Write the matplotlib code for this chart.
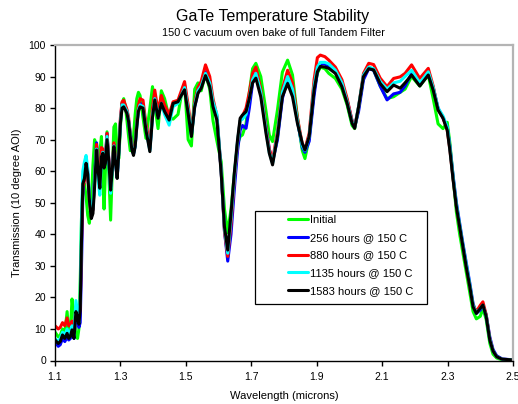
import matplotlib
matplotlib.use("Agg")
import matplotlib.pyplot as plt
from matplotlib.patches import Rectangle

plt.rcParams['font.family'] = ['Liberation Sans', 'DejaVu Sans']

wavelength = [
    1.100, 1.110, 1.116, 1.123, 1.130, 1.137, 1.142, 1.147, 1.152, 1.158,
    1.164, 1.169, 1.173, 1.177, 1.181, 1.185, 1.190, 1.195, 1.200, 1.205,
    1.211, 1.216, 1.221, 1.227, 1.233, 1.237, 1.242, 1.246, 1.250, 1.254,
    1.259, 1.265, 1.270, 1.275, 1.280, 1.285, 1.290, 1.295, 1.300, 1.305,
    1.310, 1.315, 1.320, 1.325, 1.330, 1.335, 1.340, 1.345, 1.350, 1.355,
    1.360, 1.369, 1.378, 1.390, 1.398, 1.405, 1.415, 1.425, 1.435, 1.449,
    1.461, 1.476, 1.486, 1.496, 1.507, 1.517, 1.527, 1.537, 1.547, 1.560,
    1.573, 1.583, 1.595, 1.608, 1.618, 1.628, 1.638, 1.648, 1.658, 1.666,
    1.673, 1.684, 1.694, 1.704, 1.714, 1.729, 1.745, 1.755, 1.765, 1.780,
    1.795, 1.811, 1.826, 1.841, 1.856, 1.864, 1.877, 1.892, 1.902, 1.911,
    1.925, 1.937, 1.957, 1.977, 1.993, 2.008, 2.016, 2.028, 2.043, 2.059,
    2.074, 2.094, 2.115, 2.135, 2.155, 2.170, 2.190, 2.215, 2.241, 2.256,
    2.271, 2.286, 2.299, 2.307, 2.317, 2.327, 2.337, 2.347, 2.357, 2.368,
    2.378, 2.388, 2.400, 2.408, 2.418, 2.429, 2.439, 2.450, 2.467, 2.500,
]

initial = [
    9.0, 7.5, 8.0, 10, 8.5, 15.5, 9, 9, 19.5, 14,
    7.5, 7.0, 10, 25, 45, 55, 56, 52, 46, 43.5,
    50, 62, 70, 68, 60, 66, 71, 58, 48, 60,
    72.5, 58, 44.5, 60, 74, 75, 66, 64, 74, 81.5,
    83, 80.5, 76, 71, 66.5, 67, 71, 78, 83, 85,
    84, 77, 70.4, 80, 86.8, 81, 73.5, 85.5, 83, 77,
    76.5, 78, 84, 87.5, 70, 68, 86, 88, 85.5, 91,
    86, 76, 69.5, 63, 48, 40.5, 48, 59, 68.5, 71,
    71.5, 75, 85, 92.5, 94.2, 90, 79, 71.5, 69.4, 79.4,
    91.4, 95.2, 90.5, 77, 66.5, 64, 70.5, 85.5, 91, 93,
    92.5, 91, 89.4, 86, 81, 74.5, 73.5, 80, 90, 93,
    92, 87, 83, 83.6, 85, 86, 90, 87, 90.5, 83,
    75, 73.5, 75.5, 69, 58, 47, 40, 34, 28, 21.5,
    15.5, 13.2, 14, 16.5, 13, 5.5, 2, 0.8, 0.2, 0.1,
]

h256 = [
    6, 4.5, 5, 7, 6, 7.5, 6.5, 7, 9, 7,
    15, 13, 10.5, 12, 30, 52, 60, 63, 60, 52,
    46, 48, 58, 69, 60, 55, 66, 67, 62, 64,
    72, 63, 55, 61, 68.5, 63, 58, 66, 76, 81.5,
    81.5, 80.5, 79, 76, 72, 67.5, 65.5, 68, 74.5, 79.5,
    81.5, 81, 74, 67, 78, 84, 77.5, 82.5, 79.5, 76,
    81.5, 82, 84.5, 87, 79.5, 71.5, 80.5, 85, 87, 91.5,
    88, 81.5, 77, 60, 41, 31.5, 40, 54, 66.5, 73,
    74.5, 73.6, 80, 88, 91, 85, 74, 67, 63, 70,
    83, 89.5, 86, 76, 67.5, 66, 69.5, 84, 91.5, 94,
    94, 93, 91.5, 87.5, 82.5, 76, 74, 79, 89, 92.5,
    92, 87, 82.6, 84.5, 85, 87, 91, 87.5, 91, 86.5,
    80, 77, 74, 68, 58.5, 50, 43.5, 37, 31, 24.5,
    18, 15, 16, 17.5, 14.5, 7.5, 3.5, 1.5, 0.5, 0.2,
]

h880 = [
    11, 10, 10.5, 12, 11, 13.5, 11, 11, 12.5, 10,
    17, 15, 13, 17, 38, 55, 57, 62, 59, 51,
    45.5, 48, 57, 68.5, 60, 56, 67.5, 67, 62, 64,
    72, 63, 55, 61.5, 69, 64, 59, 67, 77, 82,
    82.5, 81, 79.5, 77, 72, 67.5, 66, 69, 75.5, 81,
    83, 82.5, 75, 67.5, 80, 85.7, 79, 84, 81, 78,
    82, 82.5, 85.5, 88.4, 81, 72.5, 82, 86.5, 88.5, 93.7,
    90, 83, 77.5, 60, 41, 33, 43, 57, 69, 76,
    77.5, 80, 85, 91, 93, 86, 74, 67, 63.5, 72.5,
    86, 92, 88, 77, 68.5, 67, 72, 89, 96, 96.8,
    96.3, 95.2, 93, 89, 83, 76, 74, 80.5, 91, 94.2,
    93.8, 89.5, 86.8, 89.4, 89.9, 91, 93.7, 89.4, 92.6, 87,
    79.5, 77, 73, 67, 57.5, 49, 42.5, 36, 30, 23.5,
    17.5, 15.5, 17.5, 18.6, 14.5, 7, 3, 1.2, 0.4, 0.2,
]

h1135 = [
    7, 6, 7, 9, 8, 10, 8, 9, 11, 8,
    19, 15, 12, 20, 45, 60, 63, 65, 61, 52,
    46, 48.5, 57, 67, 56, 52.4, 64, 66, 62, 63,
    71, 61, 53, 60, 68, 63, 58, 66, 75.5, 81,
    81, 80, 79, 76, 71.5, 67, 65.5, 68, 74.5, 79.5,
    81, 80.5, 73.5, 66.5, 77.5, 83, 77, 81.5, 78, 74.6,
    80.5, 81.5, 84, 86.5, 79.5, 71.5, 81, 85.5, 87, 91,
    88, 82, 78, 60, 42, 34, 45, 58, 69.5, 76,
    76.5, 78, 83, 89, 91, 85, 73, 66, 62.5, 71.5,
    85, 90, 86, 76, 68, 66.5, 71, 87, 93, 94.5,
    94.5, 94, 92, 88, 82, 75.5, 73.8, 80.5, 90.5, 93,
    92.5, 88.5, 86, 88, 88.5, 90, 92, 88, 91.5, 86.5,
    80, 77.5, 74, 67.5, 58, 49.5, 43, 36.5, 30.5, 24,
    17.5, 15, 16.5, 17.5, 14, 6.8, 3, 1.2, 0.4, 0.2,
]

h1583 = [
    6.5, 5.4, 6.0, 8.1, 7.0, 8.6, 7.0, 7.6, 9.7, 7.0,
    15.5, 13.5, 11.5, 16, 38, 56, 57.7, 62.5, 59, 51,
    45, 46.6, 55, 66.7, 59, 54.6, 64.6, 65.7, 61, 62.5,
    70, 62.5, 54, 60.4, 67.8, 62.5, 57.7, 65.7, 75.2, 80,
    80.4, 79.4, 78.3, 75.7, 71, 66.7, 65, 67.8, 74, 79,
    80.4, 80, 73, 66.2, 77, 82.6, 76.8, 81.5, 78.9, 76.2,
    81.5, 82, 84, 85.8, 78.3, 71, 80.4, 84.7, 86.3, 90.3,
    86.8, 80.4, 76.2, 59.3, 42.4, 35, 46.6, 59.3, 70, 76.8,
    77.8, 78.9, 83, 88, 89.5, 83.6, 72, 65.7, 62, 71,
    83.6, 87.8, 83.6, 75.2, 68.8, 66.7, 71, 85.7, 91.5, 93.2,
    93.0, 92.6, 91, 86.8, 81.5, 75.2, 73.6, 80.4, 90, 92.5,
    92.1, 87.8, 85.2, 87.3, 86.3, 88, 90.5, 87, 90.5, 85.7,
    79.4, 76.8, 73, 66.7, 57.2, 48.7, 42.4, 36, 29.7, 23.4,
    17, 14.9, 16.5, 17.6, 13.9, 6.5, 3, 1.2, 0.4, 0.2,
]

series_labels = ["Initial", "256 hours @ 150 C", "880 hours @ 150 C",
                 "1135 hours @ 150 C", "1583 hours @ 150 C"]
series_values = [initial, h256, h880, h1135, h1583]
series_colors = ["#00FF00", "#0000FF", "#FF0000", "#00FFFF", "#000000"]

x_ticks = [1.1, 1.3, 1.5, 1.7, 1.9, 2.1, 2.3, 2.5]
y_ticks = list(range(0, 101, 10))

fig = plt.figure(figsize=(5.18, 4.04), dpi=100)
ax = fig.add_axes([55 / 518, 1 - 360.5 / 404, 458 / 518, 315.5 / 404])

for vals, col, lab in zip(series_values, series_colors, series_labels):
    ax.plot(wavelength, vals, color=col, lw=2.2, label=lab,
            solid_joinstyle='round', solid_capstyle='round')

ax.set_xlim(1.1, 2.5)
ax.set_ylim(0, 100)
ax.set_xticks(x_ticks)
ax.set_xticklabels([f"{t:.1f}" for t in x_ticks])
ax.set_yticks(y_ticks)
ax.tick_params(direction='out', length=3.5, width=1, labelsize=7.5,
               colors='black', pad=3)
ax.tick_params(axis='x', pad=5)
for s in ['left', 'bottom']:
    ax.spines[s].set_color('black')
    ax.spines[s].set_linewidth(1.0)
for s in ['top', 'right']:
    ax.spines[s].set_color('#b4b4b4')
    ax.spines[s].set_linewidth(1.6)

ax.set_xlabel("Wavelength (microns)", fontsize=8, labelpad=6)
ax.set_ylabel("Transmission (10 degree AOI)", fontsize=8, labelpad=5)

fig.text(273 / 518, 1 - 16 / 404, "GaTe Temperature Stability",
         ha='center', va='center', fontsize=11.5)
fig.text(273 / 518, 1 - 33 / 404, "150 C vacuum oven bake of full Tandem Filter",
         ha='center', va='center', fontsize=7.8)

# legend box
bx0 = (255 - 55) / 458
bx1 = (427 - 55) / 458
by0 = (360.5 - 304) / 315.5
by1 = (360.5 - 211) / 315.5
ax.add_patch(Rectangle((bx0, by0), bx1 - bx0, by1 - by0, transform=ax.transAxes,
                       facecolor='white', edgecolor='black', lw=0.9, zorder=5))
leg = ax.legend(loc='upper left', bbox_to_anchor=((288 - 55) / 458, (360.5 - 215) / 315.5),
                frameon=False, fontsize=8, handlelength=1.8, handletextpad=0.15,
                labelspacing=0.7, borderpad=0, borderaxespad=0)
leg.set_zorder(6)
for line in leg.get_lines():
    line.set_linewidth(2.2)

fig.savefig("out.png", dpi=100)
